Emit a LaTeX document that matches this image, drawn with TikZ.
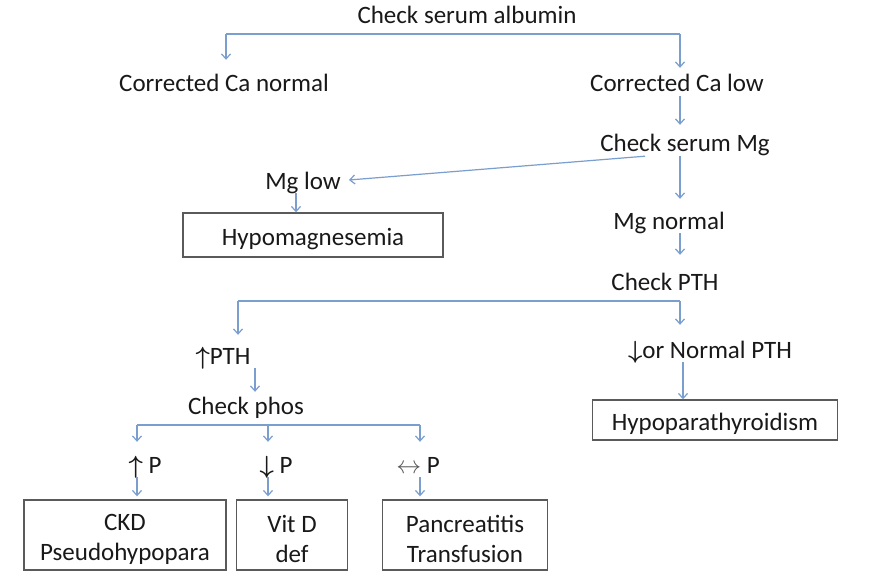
\documentclass[tikz,border=0pt]{standalone}
\usepackage{fontspec}
\setmainfont{Carlito}
\usetikzlibrary{arrows.meta}
\definecolor{linec}{RGB}{122,158,205}
\definecolor{boxc}{RGB}{90,90,90}
\definecolor{txt}{RGB}{25,25,25}
\newcommand\boxstrut{\rule{0pt}{26pt}}
\newcommand\upa{{\boldmath$\uparrow$}}
\newcommand\dna{{\boldmath$\downarrow$}}
\begin{document}
\begin{tikzpicture}[x=1pt,y=-1pt,
 lbl/.style={inner sep=2pt, text height=20pt, text depth=2pt, text=txt, font=\fontsize{25}{30}\selectfont},
 bx/.style={draw=boxc, line width=1.4pt, align=center, inner sep=0pt, text=txt, font=\fontsize{25}{30}\selectfont},
 arr/.style={draw=linec, line width=1.2pt, -{Straight Barb[length=5pt,width=9pt]}},
 ln/.style={draw=linec, line width=1.2pt}]
\fill[white, use as bounding box] (0,0) rectangle (882,580);

% nodes
\node[lbl] (alb) at (467,15) {Check serum albumin};
\node[lbl] (cnorm) at (224,83) {Corrected Ca normal};
\node[lbl] (clow) at (677,83) {Corrected Ca low};
\node[lbl] (mg) at (685,143) {Check serum Mg};
\node[lbl] (mglow) at (303,180) {Mg low};
\node[bx, minimum width=260, minimum height=44] (hmg) at (313,235) {\boxstrut Hypomagnesemia};
\node[lbl] (mgn) at (669,220) {Mg normal};
\node[lbl] (pth) at (665,281) {Check PTH};
\node[lbl] (upth) at (223,355) {\upa PTH};
\node[lbl] (dpth) at (710,349) {\dna or Normal PTH};
\node[lbl] (phos) at (246,405) {Check phos};
\node[bx, minimum width=245, minimum height=40] (hpara) at (715,420) {\boxstrut Hypoparathyroidism};
\node[lbl] (pup) at (145,464) {\upa\ P};
\node[lbl] (pdn) at (276,464) {\dna\ P};
\node[lbl] (peq) at (418,464) {{\color{black!65}$\leftrightarrow$} P};
\node[bx, minimum width=202, minimum height=70] (ckd) at (125,535) {\boxstrut CKD\\Pseudohypopara};
\node[bx, minimum width=111, minimum height=70] (vitd) at (292,535) {\boxstrut Vit D\\def};
\node[bx, minimum width=165, minimum height=70] (panc) at (465,535) {\boxstrut Pancreatitis\\Transfusion};

% helper coordinates
\coordinate (b1) at (467,34);
\coordinate (b2) at (460,301);
\coordinate (b3) at (280,425);
\coordinate (xL) at (226,0);
\coordinate (xR) at (680,0);
\coordinate (xP) at (238,0);
\coordinate (xQ) at (255,0);
\coordinate (xH) at (683,0);
\coordinate (xM) at (296,0);
\coordinate (x1) at (137,0);
\coordinate (x2) at (268,0);
\coordinate (x3) at (420,0);

% connectors
\draw[ln] (xL |- b1) -- (xR |- b1);
\draw[arr, shorten >=10pt] (xL |- b1) -- (xL |- cnorm.north);
\draw[arr, shorten >=2pt] (xR |- b1) -- (xR |- clow.north);
\draw[arr, shorten >=5pt] (xR |- clow.south) -- (xR |- mg.north);
\draw[arr] ([xshift=-40]mg.south) -- ([xshift=6]mglow.east);
\draw[arr] (xM |- mglow.south) -- (xM |- hmg.north);
\draw[arr, shorten >=8pt] (xR |- mg.south) -- (xR |- mgn.north);
\draw[arr, shorten >=13pt] (xR |- mgn.south) -- (xR |- pth.north);
\draw[ln] (xP |- b2) -- (xR |- b2);
\draw[arr, shorten >=7pt] (xP |- b2) -- (xP |- upth.north);
\draw[arr, shorten >=11pt] (xR |- b2) -- (xR |- dpth.north);
\draw[arr] (xQ |- upth.south) -- (xQ |- phos.north);
\draw[arr] (xH |- dpth.south) -- (xH |- hpara.north);
\draw[ln] (x1 |- b3) -- (x3 |- b3);
\draw[arr, shorten >=9pt] (x1 |- b3) -- (x1 |- pup.north);
\draw[arr, shorten >=9pt] (x2 |- b3) -- (x2 |- pdn.north);
\draw[arr, shorten >=9pt] (x3 |- b3) -- (x3 |- peq.north);
\draw[arr, shorten >=3pt] (x1 |- pup.south) -- (x1 |- ckd.north);
\draw[arr, shorten >=3pt] (x2 |- pdn.south) -- (x2 |- vitd.north);
\draw[arr, shorten >=3pt] (x3 |- peq.south) -- (x3 |- panc.north);
\end{tikzpicture}
\end{document}
